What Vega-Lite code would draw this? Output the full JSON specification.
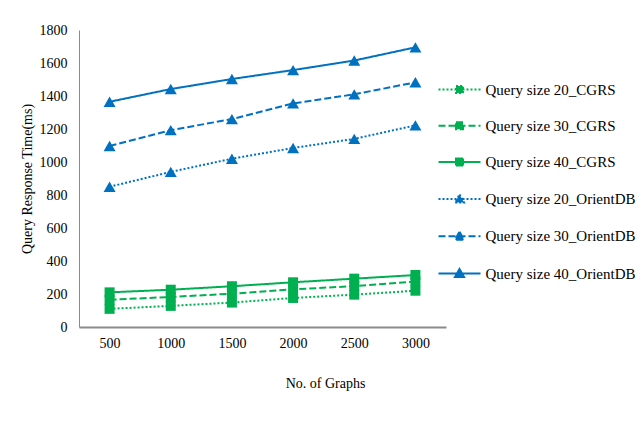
{
  "$schema": "https://vega.github.io/schema/vega-lite/v6.json",
  "width": 367,
  "height": 297,
  "autosize": {"type": "none"},
  "padding": {"left": 79, "top": 30, "right": 198, "bottom": 94},
  "background": "white",
  "data": {
    "values": [
      {"graphs": 500, "series": "Query size 20_CGRS", "time": 110},
      {"graphs": 1000, "series": "Query size 20_CGRS", "time": 128},
      {"graphs": 1500, "series": "Query size 20_CGRS", "time": 148},
      {"graphs": 2000, "series": "Query size 20_CGRS", "time": 176},
      {"graphs": 2500, "series": "Query size 20_CGRS", "time": 196},
      {"graphs": 3000, "series": "Query size 20_CGRS", "time": 220},
      {"graphs": 500, "series": "Query size 30_CGRS", "time": 165},
      {"graphs": 1000, "series": "Query size 30_CGRS", "time": 182},
      {"graphs": 1500, "series": "Query size 30_CGRS", "time": 202},
      {"graphs": 2000, "series": "Query size 30_CGRS", "time": 228},
      {"graphs": 2500, "series": "Query size 30_CGRS", "time": 248},
      {"graphs": 3000, "series": "Query size 30_CGRS", "time": 275},
      {"graphs": 500, "series": "Query size 40_CGRS", "time": 210},
      {"graphs": 1000, "series": "Query size 40_CGRS", "time": 226},
      {"graphs": 1500, "series": "Query size 40_CGRS", "time": 247},
      {"graphs": 2000, "series": "Query size 40_CGRS", "time": 271},
      {"graphs": 2500, "series": "Query size 40_CGRS", "time": 293},
      {"graphs": 3000, "series": "Query size 40_CGRS", "time": 315},
      {"graphs": 500, "series": "Query size 20_OrientDB", "time": 850},
      {"graphs": 1000, "series": "Query size 20_OrientDB", "time": 940},
      {"graphs": 1500, "series": "Query size 20_OrientDB", "time": 1020},
      {"graphs": 2000, "series": "Query size 20_OrientDB", "time": 1085},
      {"graphs": 2500, "series": "Query size 20_OrientDB", "time": 1140},
      {"graphs": 3000, "series": "Query size 20_OrientDB", "time": 1222},
      {"graphs": 500, "series": "Query size 30_OrientDB", "time": 1097},
      {"graphs": 1000, "series": "Query size 30_OrientDB", "time": 1193},
      {"graphs": 1500, "series": "Query size 30_OrientDB", "time": 1260},
      {"graphs": 2000, "series": "Query size 30_OrientDB", "time": 1355},
      {"graphs": 2500, "series": "Query size 30_OrientDB", "time": 1410},
      {"graphs": 3000, "series": "Query size 30_OrientDB", "time": 1483},
      {"graphs": 500, "series": "Query size 40_OrientDB", "time": 1365},
      {"graphs": 1000, "series": "Query size 40_OrientDB", "time": 1442},
      {"graphs": 1500, "series": "Query size 40_OrientDB", "time": 1503},
      {"graphs": 2000, "series": "Query size 40_OrientDB", "time": 1557},
      {"graphs": 2500, "series": "Query size 40_OrientDB", "time": 1615},
      {"graphs": 3000, "series": "Query size 40_OrientDB", "time": 1695}
    ]
  },
  "encoding": {
    "x": {
      "field": "graphs",
      "type": "ordinal",
      "scale": {"type": "point", "padding": 0.5},
      "axis": {
        "title": "No. of Graphs",
        "labelAngle": 0,
        "labelPadding": 9,
        "titlePadding": 26,
        "titleX": 246,
        "domainWidth": 2
      }
    },
    "y": {
      "field": "time",
      "type": "quantitative",
      "scale": {"domain": [0, 1800], "nice": false},
      "axis": {
        "title": "Query Response Time(ms)",
        "values": [0, 200, 400, 600, 800, 1000, 1200, 1400, 1600, 1800],
        "format": "d",
        "labelPadding": 12,
        "titlePadding": 5,
        "domainWidth": 1
      }
    },
    "color": {
      "field": "series",
      "type": "nominal",
      "scale": {
        "domain": ["Query size 20_CGRS", "Query size 30_CGRS", "Query size 40_CGRS", "Query size 20_OrientDB", "Query size 30_OrientDB", "Query size 40_OrientDB"],
        "range": ["#00B050", "#00B050", "#00B050", "#0070C0", "#0070C0", "#0070C0"]
      },
      "legend": {
        "orient": "none",
        "legendX": 373,
        "legendY": 52,
        "title": null,
        "padding": 0,
        "symbolSize": 4,
        "symbolStrokeWidth": 2,
        "labelOffset": 18.5,
        "rowPadding": 20.2,
        "labelFontSize": 15,
        "labelLimit": 300,
        "encode": {
          "symbols": {
            "update": {
              "shape": {"signal": "indexof(datum.value, 'CGRS') >= 0 ? 'M-21,0H21M-3.5,-3.5H3.5V3.5H-3.5Z' : 'M-21,0H21M0,-4.5L4.5,3.5H-4.5Z'"},
              "size": {"value": 4},
              "strokeDash": {"signal": "indexof(datum.value, '20_') >= 0 ? [2, 2] : indexof(datum.value, '30_') >= 0 ? [7, 3] : [1, 0]"},
              "fill": {"scale": "color", "field": "value"},
              "stroke": {"scale": "color", "field": "value"},
              "strokeWidth": {"value": 2},
              "opacity": {"value": 1},
              "fillOpacity": {"value": 1},
              "strokeOpacity": {"value": 1}
            }
          }
        }
      }
    }
  },
  "layer": [
    {
      "mark": {"type": "line", "strokeWidth": 2},
      "encoding": {
        "strokeDash": {
          "field": "series",
          "type": "nominal",
          "scale": {
            "domain": ["Query size 20_CGRS", "Query size 30_CGRS", "Query size 40_CGRS", "Query size 20_OrientDB", "Query size 30_OrientDB", "Query size 40_OrientDB"],
            "range": [[2, 2], [7, 3], [1, 0], [2, 2], [7, 3], [1, 0]]
          },
          "legend": null
        }
      }
    },
    {
      "transform": [{"filter": "indexof(datum.series, 'CGRS') >= 0"}],
      "mark": {"type": "point", "shape": "square", "size": 100, "filled": true, "opacity": 1, "strokeWidth": 0}
    },
    {
      "transform": [{"filter": "indexof(datum.series, 'OrientDB') >= 0"}],
      "mark": {"type": "point", "shape": "triangle-up", "size": 144, "filled": true, "opacity": 1, "strokeWidth": 0}
    }
  ],
  "config": {
    "font": "Liberation Serif",
    "view": {"stroke": null},
    "axis": {
      "grid": false,
      "ticks": false,
      "domainColor": "#8a8a8a",
      "labelFont": "Liberation Serif",
      "labelFontSize": 14,
      "labelColor": "#000000",
      "titleFont": "Liberation Serif",
      "titleFontSize": 14,
      "titleFontWeight": "normal",
      "titleColor": "#000000"
    },
    "legend": {
      "labelFont": "Liberation Serif",
      "labelColor": "#000000"
    }
  }
}
